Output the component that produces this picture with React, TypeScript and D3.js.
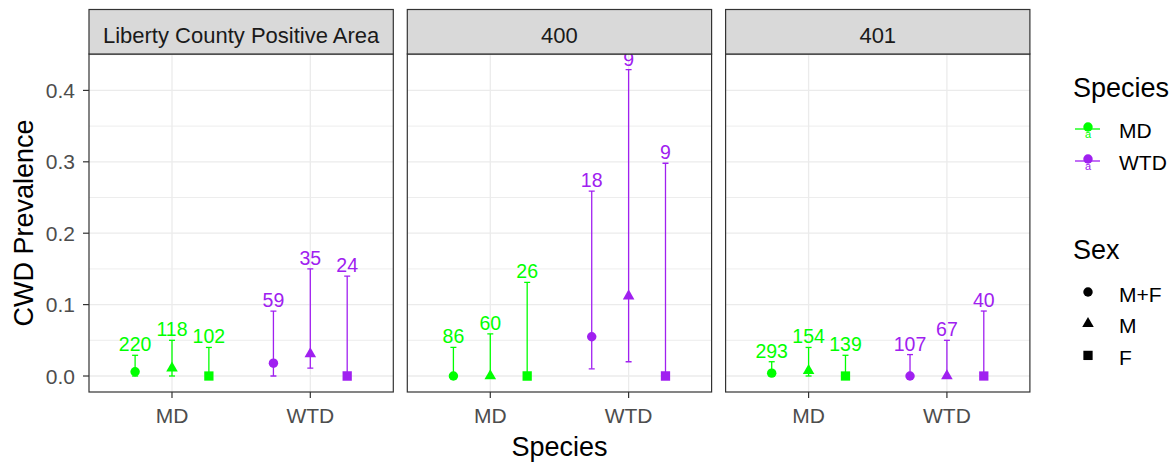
import React from 'react';
import * as d3 from 'd3';

const facets = ['Liberty County Positive Area', '400', '401'];
const speciesCats = ['MD', 'WTD'];
const sexCats = ['M+F', 'M', 'F'];
const rowSpecies = ['MD', 'MD', 'MD', 'WTD', 'WTD', 'WTD'];
const rowSex = ['M+F', 'M', 'F', 'M+F', 'M', 'F'];

// per facet, rows in order of rowSpecies/rowSex
const prevalence = [
  [0.006, 0.011, 0, 0.018, 0.031, 0],
  [0, 0, 0, 0.055, 0.112, 0],
  [0.004, 0.0075, 0, 0, 0, 0],
];
const lowerCI = [
  [0, 0, 0, 0, 0.011, 0],
  [0, 0, 0, 0.01, 0.02, 0],
  [0, 0, 0, 0, 0, 0],
];
const upperCI = [
  [0.029, 0.05, 0.04, 0.091, 0.15, 0.14],
  [0.04, 0.059, 0.131, 0.259, 0.429, 0.298],
  [0.02, 0.04, 0.029, 0.03, 0.05, 0.091],
];
const sampleN = [
  [220, 118, 102, 59, 35, 24],
  [86, 60, 26, 18, 9, 9],
  [293, 154, 139, 107, 67, 40],
];

const yTicks = [0, 0.1, 0.2, 0.3, 0.4];
const yTickLabels = ['0.0', '0.1', '0.2', '0.3', '0.4'];
const yMinor = [0.05, 0.15, 0.25, 0.35, 0.45];
const speciesColors: Record<string, string> = { MD: '#00FF00', WTD: '#A020F0' };

const FONT = 'Liberation Sans, Arial, Helvetica, sans-serif';

export default function App() {
  const W = 1175;
  const H = 464;
  const panelX0 = 89;
  const panelW = 304.3;
  const gap = 14;
  const stripTop = 9.5;
  const plotTop = 54;
  const plotBottom = 392;

  const y = d3.scaleLinear().domain([-0.0224, 0.451]).range([plotBottom, plotTop]);
  const x = d3.scalePoint<string>().domain(speciesCats).range([0, panelW]).padding(0.6);
  const step = x.step();
  const dodge = d3.scaleBand<string>().domain(sexCats).range([-0.4 * step, 0.4 * step]);
  const shapeOf: Record<string, d3.SymbolType> = {
    'M+F': d3.symbolCircle,
    M: d3.symbolTriangle,
    F: d3.symbolSquare,
  };
  const sizeOf: Record<string, number> = { 'M+F': 70, M: 58, F: 86 };
  const sym = (s: string) => d3.symbol().type(shapeOf[s]).size(sizeOf[s])() as string;

  const capHalf = 3;

  return (
    <svg width={W} height={H} style={{ position: 'absolute', left: 0, top: 0, background: '#fff' }} fontFamily={FONT}>
      <defs>
        {facets.map((f, i) => (
          <clipPath id={`clip${i}`} key={f}>
            <rect x={panelX0 + i * (panelW + gap)} y={plotTop} width={panelW} height={plotBottom - plotTop} />
          </clipPath>
        ))}
      </defs>
      <rect x={0} y={0} width={W} height={H} fill="#fff" />
      {facets.map((f, fi) => {
        const px = panelX0 + fi * (panelW + gap);
        return (
          <g key={f}>
            <rect x={px} y={plotTop} width={panelW} height={plotBottom - plotTop} fill="#fff" />
            {yMinor.map((v) => (
              <line key={'mn' + v} x1={px} x2={px + panelW} y1={y(v)} y2={y(v)} stroke="#EBEBEB" strokeWidth={0.9} />
            ))}
            {yTicks.map((v) => (
              <line key={'mj' + v} x1={px} x2={px + panelW} y1={y(v)} y2={y(v)} stroke="#EBEBEB" strokeWidth={1.3} />
            ))}
            {speciesCats.map((s) => (
              <line key={'vx' + s} x1={px + (x(s) as number)} x2={px + (x(s) as number)} y1={plotTop} y2={plotBottom} stroke="#EBEBEB" strokeWidth={1.3} />
            ))}
            <g clipPath={`url(#clip${fi})`}>
              {rowSpecies.map((sp, ri) => {
                const sx = rowSex[ri];
                const cx = px + (x(sp) as number) + (dodge(sx) as number) + dodge.bandwidth() / 2;
                const col = speciesColors[sp];
                const yl = y(lowerCI[fi][ri]);
                const yu = y(upperCI[fi][ri]);
                return (
                  <g key={ri}>
                    <line x1={cx} x2={cx} y1={yl} y2={yu} stroke={col} strokeWidth={1.3} />
                    <line x1={cx - capHalf} x2={cx + capHalf} y1={yl} y2={yl} stroke={col} strokeWidth={1.3} />
                    <line x1={cx - capHalf} x2={cx + capHalf} y1={yu} y2={yu} stroke={col} strokeWidth={1.3} />
                    <path d={sym(sx)} transform={`translate(${cx},${y(prevalence[fi][ri])})`} fill={col} />
                    <text x={cx} y={yu - 4} textAnchor="middle" fontSize={19.5} fill={col}>
                      {sampleN[fi][ri]}
                    </text>
                  </g>
                );
              })}
            </g>
            <rect x={px} y={plotTop} width={panelW} height={plotBottom - plotTop} fill="none" stroke="#333333" strokeWidth={1.2} />
            <rect x={px} y={stripTop} width={panelW} height={plotTop - stripTop} fill="#D9D9D9" stroke="#333333" strokeWidth={1.2} />
            <text x={px + panelW / 2} y={stripTop + 33} textAnchor="middle" fontSize={22} fill="#1A1A1A">
              {f}
            </text>
            {speciesCats.map((s) => (
              <g key={'xt' + s}>
                <line x1={px + (x(s) as number)} x2={px + (x(s) as number)} y1={plotBottom} y2={plotBottom + 6} stroke="#333333" strokeWidth={1.2} />
                <text x={px + (x(s) as number)} y={423} textAnchor="middle" fontSize={21} fill="#4D4D4D">
                  {s}
                </text>
              </g>
            ))}
          </g>
        );
      })}
      {yTicks.map((v, i) => (
        <g key={'yt' + v}>
          <line x1={panelX0 - 6} x2={panelX0} y1={y(v)} y2={y(v)} stroke="#333333" strokeWidth={1.2} />
          <text x={panelX0 - 14} y={y(v)} dy="0.36em" textAnchor="end" fontSize={21} fill="#4D4D4D">
            {yTickLabels[i]}
          </text>
        </g>
      ))}
      <text transform={`translate(33,${(plotTop + plotBottom) / 2}) rotate(-90)`} textAnchor="middle" fontSize={27} fill="#000">
        CWD Prevalence
      </text>
      <text x={panelX0 + panelW + gap + panelW / 2} y={455.5} textAnchor="middle" fontSize={27} fill="#000">
        Species
      </text>
      <text x={1073} y={97} fontSize={27} fill="#000">Species</text>
      {speciesCats.map((s, i) => {
        const ky = 129 + i * 32;
        const col = speciesColors[s];
        return (
          <g key={'lg' + s}>
            <line x1={1075} x2={1100} y1={ky} y2={ky} stroke={col} strokeWidth={1.3} />
            <path d={d3.symbol().type(d3.symbolCircle).size(70)() as string} transform={`translate(1088,${ky - 2})`} fill={col} />
            <text x={1088} y={ky + 8.5} textAnchor="middle" fontSize={11} fill={col}>a</text>
            <text x={1119} y={ky + 8.5} fontSize={21} fill="#000">{s}</text>
          </g>
        );
      })}
      <text x={1073} y={259} fontSize={27} fill="#000">Sex</text>
      {sexCats.map((s, i) => {
        const ky = 292 + i * 31.7;
        return (
          <g key={'ls' + s}>
            <path d={sym(s)} transform={`translate(1088,${ky})`} fill="#000" />
            <text x={1119} y={ky + 9.5} fontSize={21} fill="#000">{s}</text>
          </g>
        );
      })}
    </svg>
  );
}
